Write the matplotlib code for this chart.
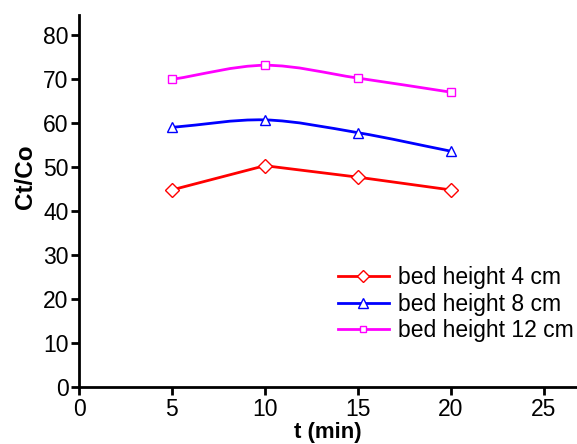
import matplotlib.pyplot as plt
import numpy as np
from matplotlib.path import Path
from matplotlib.patches import PathPatch

plt.rcParams['font.family'] = ['Liberation Sans', 'DejaVu Sans']

t = [5, 10, 15, 20]
h4 = [44.8, 50.3, 47.7, 44.8]
h8 = [59.0, 60.7, 57.8, 53.6]
h12 = [69.9, 73.1, 70.2, 67.0]
labels = ['bed height 4 cm', 'bed height 8 cm', 'bed height 12 cm']
colors = ['#ff0000', '#0000ff', '#ff00ff']
markers = ['D', '^', 's']


def smooth_path(x, y):
    # Catmull-Rom curve through the points as cubic bezier segments
    p = np.column_stack([x, y]).astype(float)
    ext = np.vstack([p[0] - (p[1] - p[0]), p, p[-1] + (p[-1] - p[-2])])
    verts = [p[0]]
    codes = [Path.MOVETO]
    for i in range(1, len(ext) - 2):
        p0, p1, p2, p3 = ext[i - 1], ext[i], ext[i + 1], ext[i + 2]
        verts += [p1 + (p2 - p0) / 6, p2 - (p3 - p1) / 6, p2]
        codes += [Path.CURVE4] * 3
    return Path(verts, codes)


fig = plt.figure(figsize=(5.77, 4.44), dpi=100)
ax = fig.add_axes([0.137, 0.128, 0.863, 0.838])

series = [h4, h8, h12]
sizes = [7.5, 7.5, 6]
for i, (y, c, m, lab, ms) in enumerate(zip(series, colors, markers, labels, sizes)):
    if i == 0:
        ax.plot(t, y, color=c, lw=2.0, zorder=2)
    else:
        ax.add_patch(PathPatch(smooth_path(t, y), fill=False, edgecolor=c, lw=2.0, zorder=2))
    ax.plot(t, y, ls='none', marker=m, ms=ms, mfc='white', mec=c, mew=1.0, zorder=3)
    ax.plot([], [], color=c, lw=2.0, marker=m, ms=ms - 1, mfc='white', mec=c, mew=1.0, label=lab)

ax.set_xlim(0, 26.8)
ax.set_ylim(0, 84.5)
ax.set_xticks([0, 5, 10, 15, 20, 25])
ax.set_yticks(np.arange(0, 81, 10))

for s in ['top', 'right']:
    ax.spines[s].set_visible(False)
for s in ['left', 'bottom']:
    ax.spines[s].set_linewidth(2)
ax.tick_params(direction='out', length=6, width=2, labelsize=16.5, pad=1.5)

ax.set_xlabel('t (min)', fontsize=16, fontweight='bold', labelpad=1)
ax.set_ylabel('Ct/Co', fontsize=17.5, fontweight='bold')
ax.yaxis.set_label_coords(-0.085, 0.567)

ax.legend(loc='upper left', bbox_to_anchor=(0.586, 0.40), bbox_transform=fig.transFigure,
          frameon=False, fontsize=16.5, handlelength=2.2, handletextpad=0.4,
          labelspacing=0.14, borderpad=0, borderaxespad=0)

fig.savefig('out.png', dpi=100)
